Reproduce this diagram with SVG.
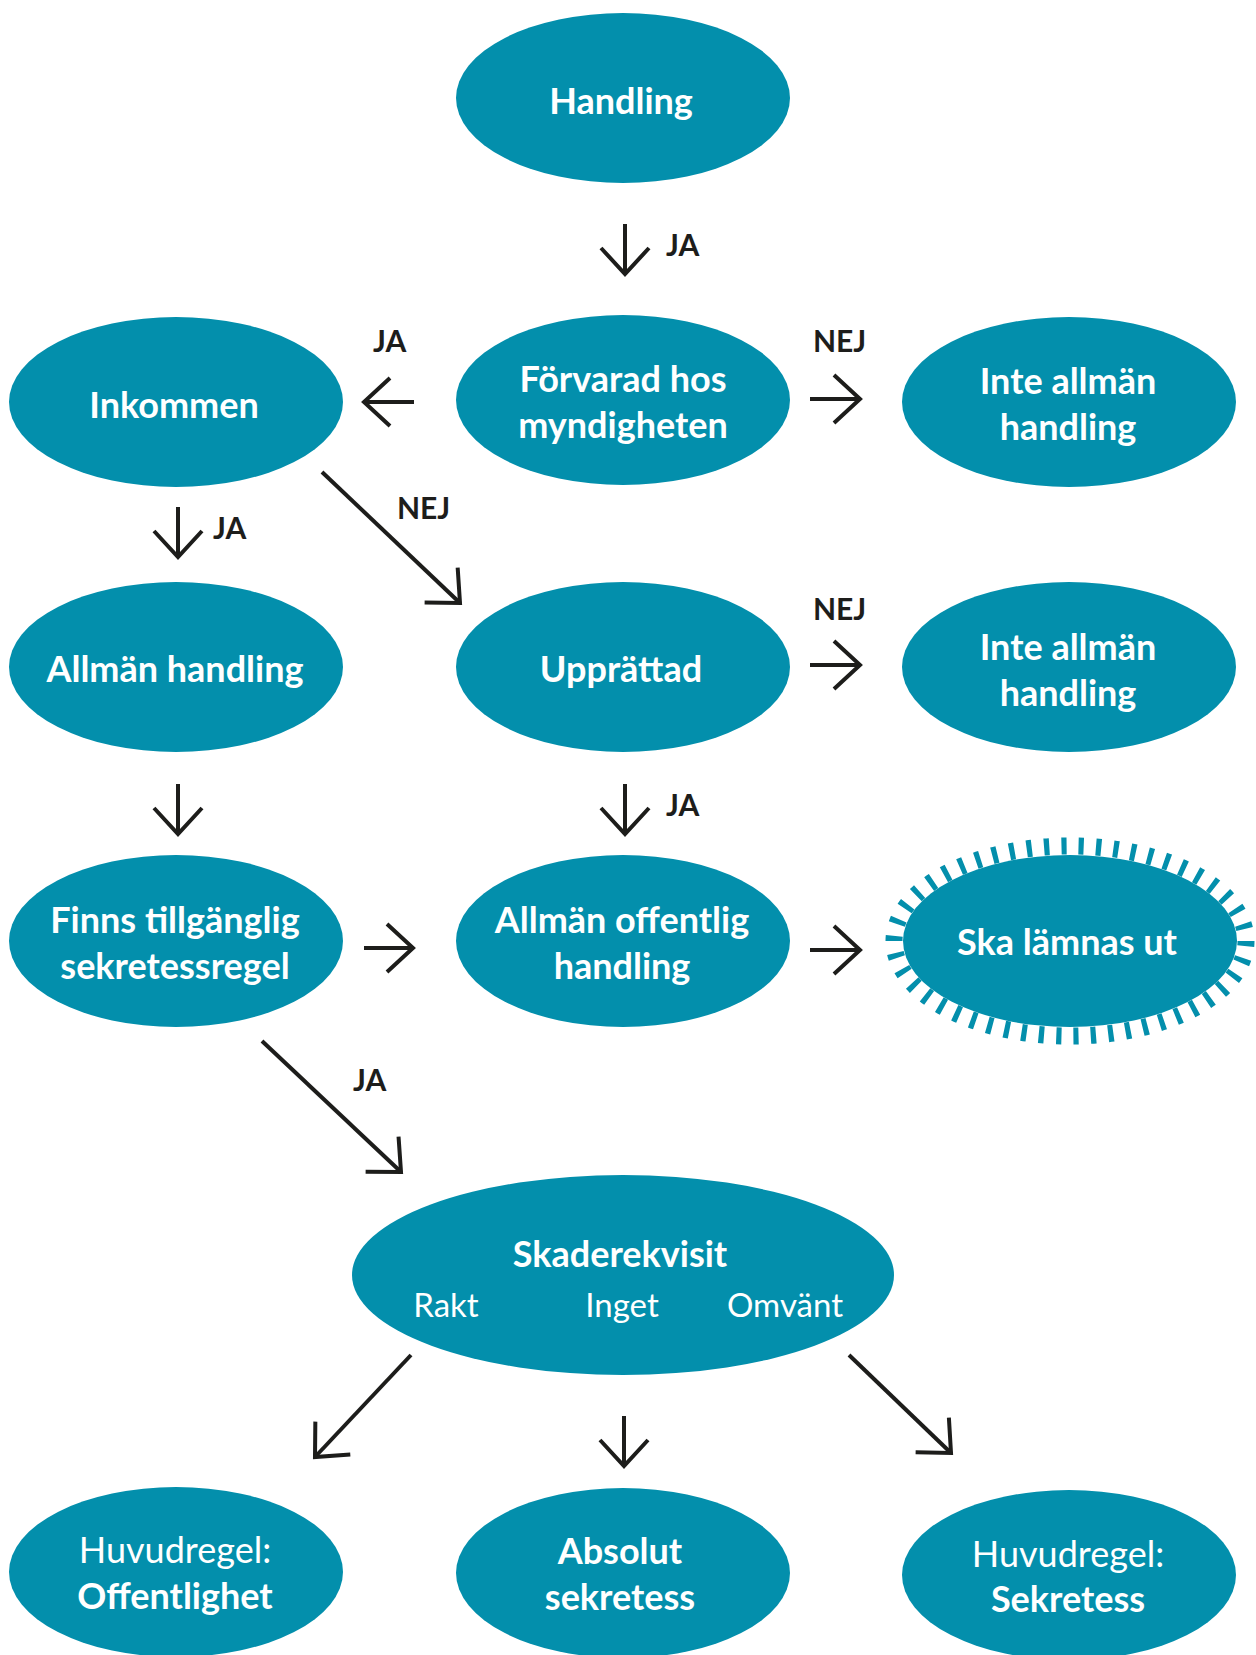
<svg xmlns="http://www.w3.org/2000/svg" width="1256" height="1655" viewBox="0 0 1256 1655">
<defs>
<style>
.n{fill:#038fac}
.t{font-family:Lato,"Open Sans","Liberation Sans",sans-serif;font-weight:700;font-size:36px;fill:#fff;text-anchor:middle}
.r{font-family:Lato,"Open Sans","Liberation Sans",sans-serif;font-weight:400;font-size:33px;fill:#fff;text-anchor:middle}
.rb{font-size:36px}
.l{font-family:Lato,"Open Sans","Liberation Sans",sans-serif;font-weight:700;font-size:30px;fill:#1d1d1b}
.c{stroke:#1d1d1b;stroke-width:4;fill:none;marker-end:url(#h)}
</style>
<marker id="h" markerUnits="userSpaceOnUse" viewBox="-30 -30 40 60" refX="0" refY="0" markerWidth="40" markerHeight="60" orient="auto" overflow="visible">
<path d="M-26,-24 L0,0 L-26,24" fill="none" stroke="#1d1d1b" stroke-width="4"/>
</marker>
</defs>
<rect width="1256" height="1655" fill="#fff"/>
<g id="n-handling"><ellipse class="n" cx="623" cy="98" rx="167" ry="85"/><text class="t" x="621" y="114">Handling</text></g>
<g id="n-forvarad"><ellipse class="n" cx="623" cy="400" rx="167" ry="85"/><text class="t" x="623" y="392">Förvarad hos</text><text class="t" x="623" y="438">myndigheten</text></g>
<g id="n-inkommen"><ellipse class="n" cx="176" cy="402" rx="167" ry="85"/><text class="t" x="174" y="418">Inkommen</text></g>
<g id="n-inte1"><ellipse class="n" cx="1069" cy="402" rx="167" ry="85"/><text class="t" x="1068" y="394">Inte allmän</text><text class="t" x="1068" y="440">handling</text></g>
<g id="n-allman"><ellipse class="n" cx="176" cy="667" rx="167" ry="85"/><text class="t" x="175" y="682">Allmän handling</text></g>
<g id="n-upprattad"><ellipse class="n" cx="623" cy="667" rx="167" ry="85"/><text class="t" x="621" y="682">Upprättad</text></g>
<g id="n-inte2"><ellipse class="n" cx="1069" cy="667" rx="167" ry="85"/><text class="t" x="1068" y="660">Inte allmän</text><text class="t" x="1068" y="706">handling</text></g>
<g id="n-finns"><ellipse class="n" cx="176" cy="941" rx="167" ry="86"/><text class="t" x="175" y="933">Finns tillgänglig</text><text class="t" x="175" y="979">sekretessregel</text></g>
<g id="n-offentlig"><ellipse class="n" cx="623" cy="941" rx="167" ry="86"/><text class="t" x="622" y="933">Allmän offentlig</text><text class="t" x="622" y="979">handling</text></g>
<g id="n-ska"><ellipse cx="1070" cy="941" rx="176" ry="95" fill="none" stroke="#038fac" stroke-width="17" pathLength="50" stroke-dasharray="0.3 0.7"/><ellipse class="n" cx="1070" cy="941" rx="167" ry="86"/><text class="t" x="1067" y="955">Ska lämnas ut</text></g>
<g id="n-skade"><ellipse class="n" cx="623" cy="1275" rx="271" ry="100"/><text class="t" x="620" y="1267">Skaderekvisit</text><text class="r" x="446" y="1317">Rakt</text><text class="r" x="622" y="1317">Inget</text><text class="r" x="785" y="1317">Omvänt</text></g>
<g id="n-huvud-off"><ellipse class="n" cx="176" cy="1572" rx="167" ry="85"/><text class="r rb" x="175" y="1563">Huvudregel:</text><text class="t" x="175" y="1609">Offentlighet</text></g>
<g id="n-absolut"><ellipse class="n" cx="623" cy="1573" rx="167" ry="85"/><text class="t" x="620" y="1564">Absolut</text><text class="t" x="620" y="1610">sekretess</text></g>
<g id="n-huvud-sek"><ellipse class="n" cx="1069" cy="1575" rx="167" ry="85"/><text class="r rb" x="1068" y="1567">Huvudregel:</text><text class="t" x="1068" y="1612">Sekretess</text></g>
<g id="connectors">
<path class="c" d="M625,224 L625,274"/>
<path class="c" d="M414,402 L364,402"/>
<path class="c" d="M810,399 L860,399"/>
<path class="c" d="M178,507 L178,557"/>
<path class="c" d="M322,472 L460,603"/>
<path class="c" d="M810,665 L860,665"/>
<path class="c" d="M178,784 L178,834"/>
<path class="c" d="M625,784 L625,834"/>
<path class="c" d="M364,948 L413,948"/>
<path class="c" d="M810,950 L860,950"/>
<path class="c" d="M262,1041 L401,1172"/>
<path class="c" d="M411,1355 L315,1457"/>
<path class="c" d="M624,1416 L624,1466"/>
<path class="c" d="M849,1355 L951,1453"/>
<text class="l" x="666" y="256">JA</text>
<text class="l" x="373" y="352">JA</text>
<text class="l" x="813" y="352">NEJ</text>
<text class="l" x="213" y="539">JA</text>
<text class="l" x="397" y="519">NEJ</text>
<text class="l" x="813" y="620">NEJ</text>
<text class="l" x="666" y="816">JA</text>
<text class="l" x="353" y="1091">JA</text>
</g>
</svg>
